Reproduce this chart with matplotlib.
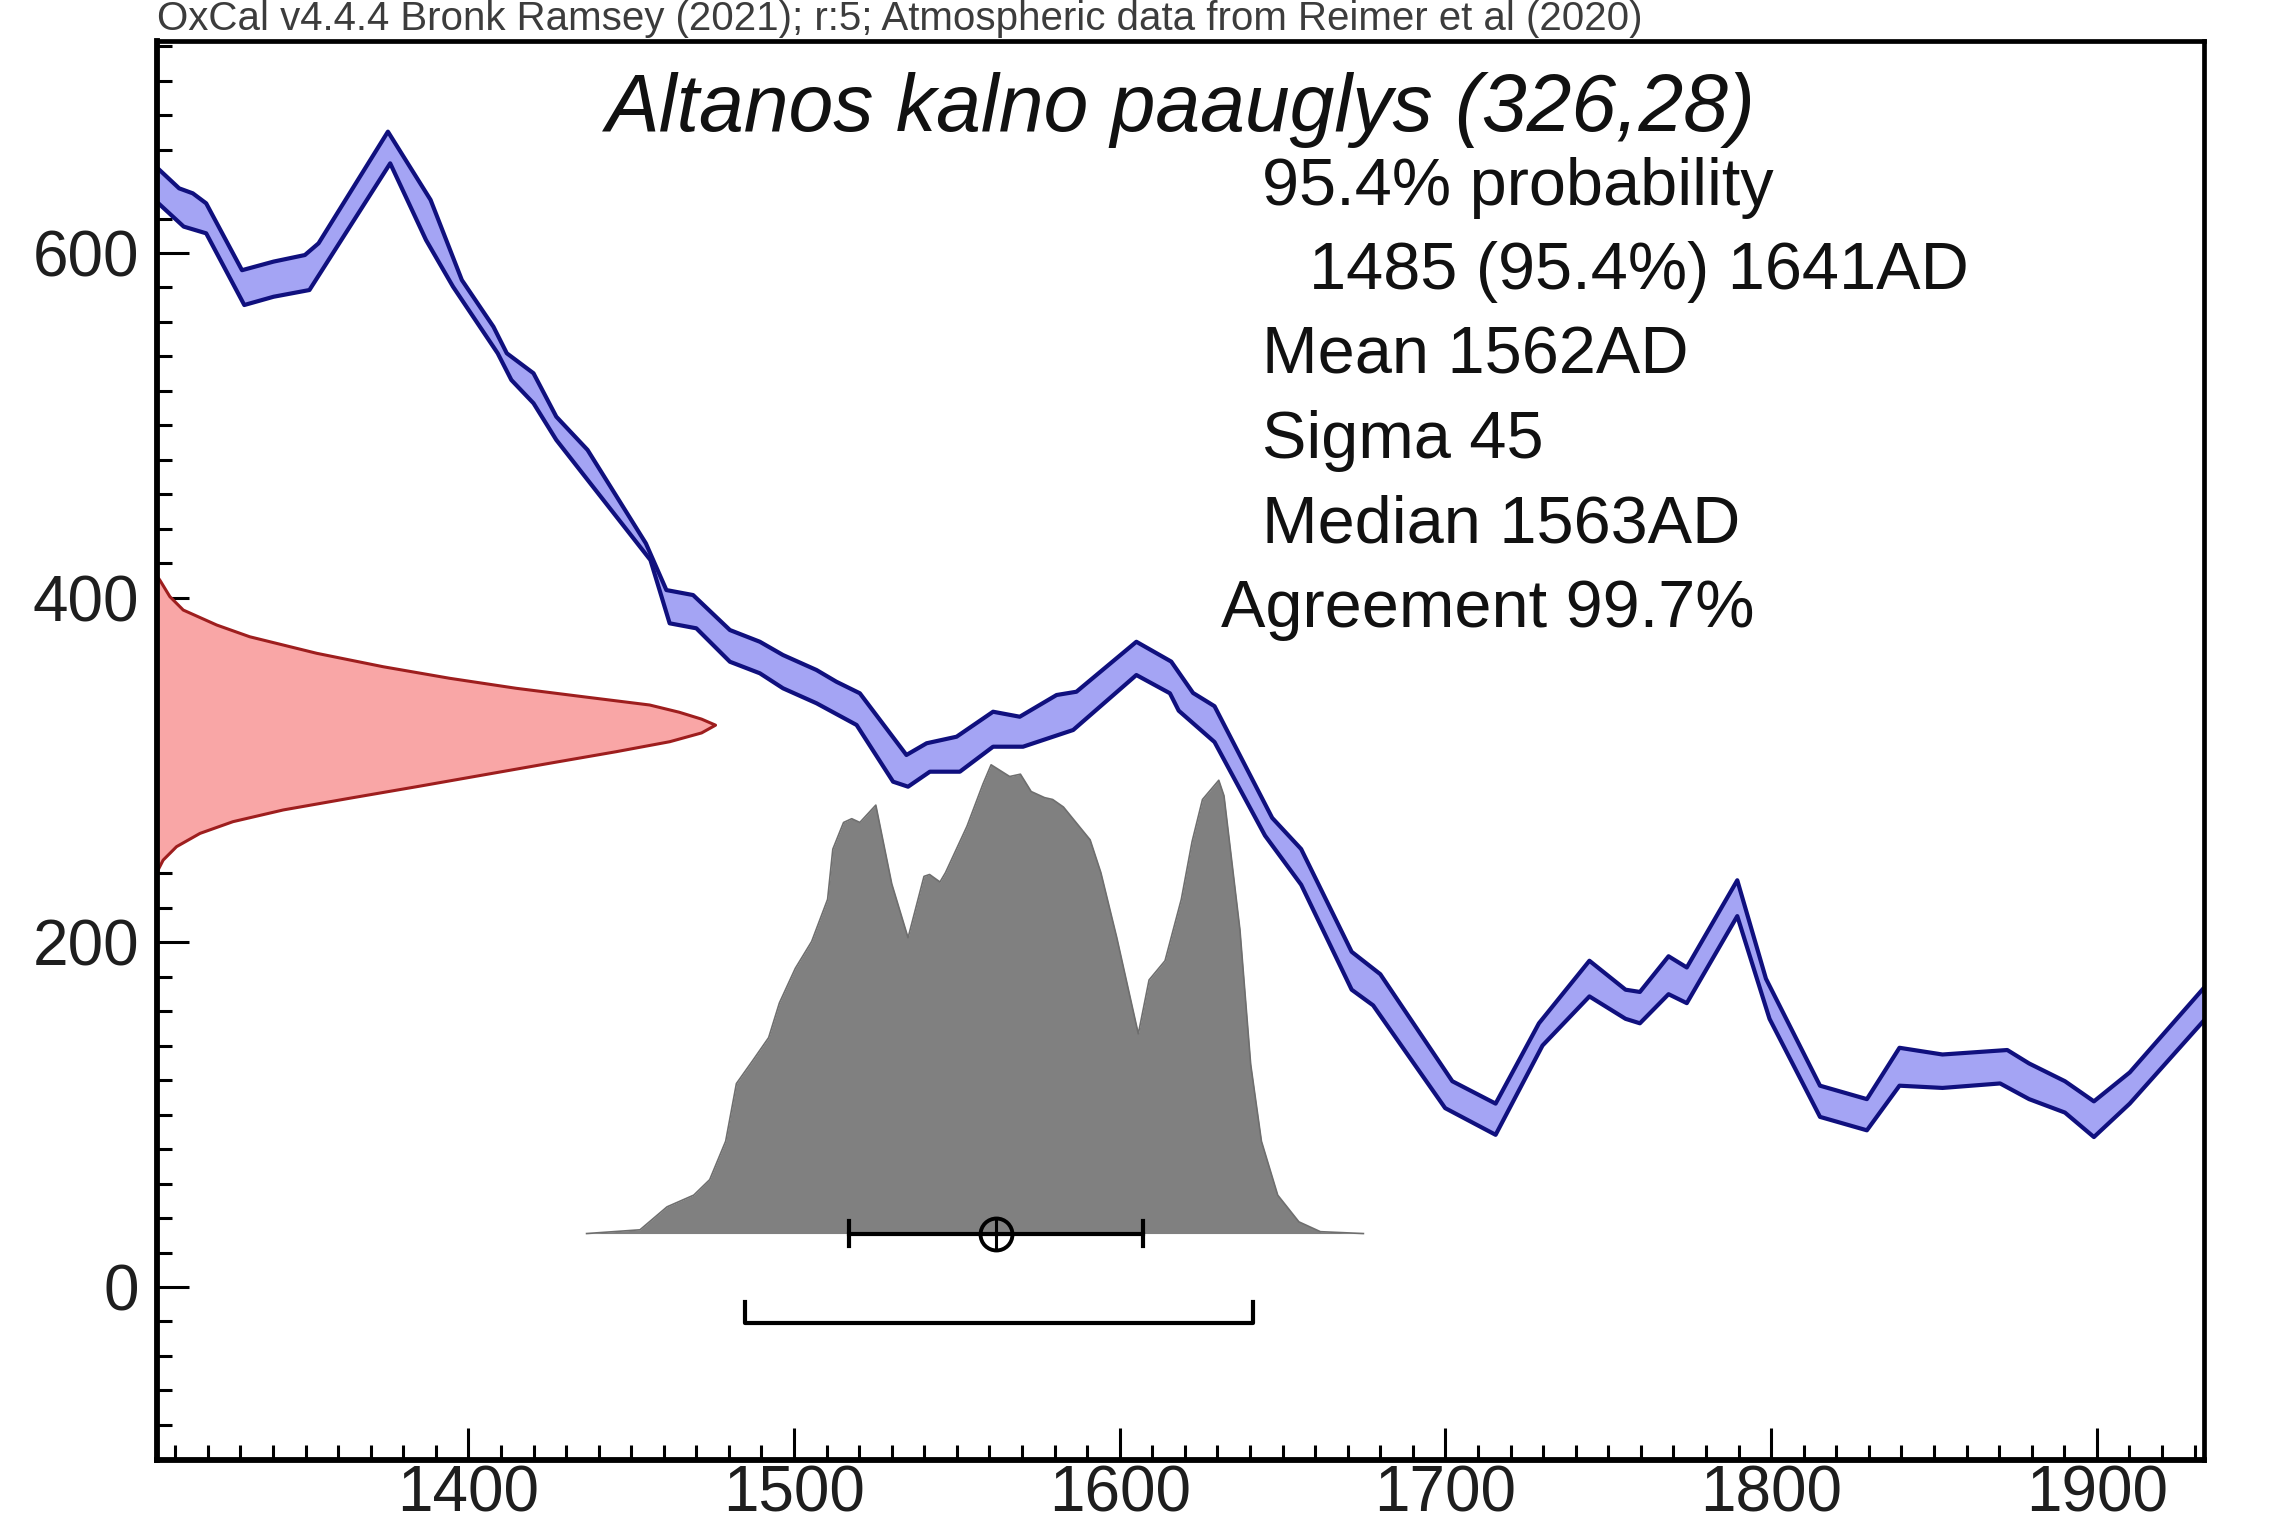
"""
OxCal style calibration plot: calibration curve band, radiocarbon date on the
y axis and the calibrated date distribution on the x axis.
"""

import matplotlib
matplotlib.use("Agg")
import matplotlib.pyplot as plt
import numpy as np
from matplotlib.ticker import MultipleLocator

plt.rcParams['font.family'] = ['Liberation Sans', 'DejaVu Sans']

# calibration curve band (cal AD vs 14C BP), upper and lower edge
curve_upper_years = [1303, 1311.2, 1315.4, 1319.5, 1330.5, 1340.2, 1349.8, 1354, 1375.3, 1388.4,
                     1398, 1407.7, 1411.8, 1420, 1427, 1436.6, 1454.5, 1460.8, 1469.0, 1480.3,
                     1489.5, 1496.6, 1506.9, 1513.0, 1520.2, 1534.5, 1540.7, 1549.9, 1561.1, 1569.3,
                     1580.6, 1586.7, 1605.1, 1615.8, 1622.5, 1629.1, 1646.8, 1655.7, 1671.2, 1680,
                     1702.1, 1715.4, 1728.7, 1744.2, 1755.3, 1759.7, 1768.5, 1774.1, 1789.6, 1798.4,
                     1815.0, 1829.4, 1839.4, 1852.6, 1872.5, 1879.2, 1890.2, 1899.1, 1910.1, 1934]
curve_upper_bp = [652, 637.5, 634.6, 628.8, 590, 595, 598.8, 605.6, 670.4, 630.8,
                  584.3, 557.2, 541.8, 530.2, 505, 485.7, 431.5, 404.4, 401.5, 381.2,
                  374.4, 366.7, 358.0, 351.2, 344.5, 308.7, 315.5, 319.3, 333.8, 330.9,
                  343.5, 345.4, 374.4, 362.9, 344.7, 337.0, 272.2, 254.1, 194.5, 181.5,
                  119.4, 106.4, 153.0, 189.3, 172.5, 171.2, 191.9, 185.4, 236.0, 178.9,
                  116.8, 109.0, 138.8, 134.9, 137.5, 129.7, 119.4, 107.7, 124.5, 176]
curve_lower_years = [1303, 1312.6, 1319.5, 1331.2, 1340.2, 1351.2, 1376, 1387, 1395.3, 1409,
                     1413.2, 1420, 1427, 1455.9, 1461.8, 1470.0, 1480.3, 1489.5, 1496.6, 1506.9,
                     1519.2, 1530.4, 1535.0, 1541.7, 1550.9, 1561.1, 1570.3, 1585.7, 1605.1, 1615.4,
                     1618.1, 1629.1, 1644.6, 1655.7, 1671.2, 1677.8, 1699.9, 1715.4, 1729.8, 1744.2,
                     1755.3, 1759.7, 1768.5, 1774.1, 1789.6, 1799.5, 1815.0, 1829.4, 1839.4, 1852.6,
                     1870.3, 1879.2, 1890.2, 1899.1, 1910.1, 1934]
curve_lower_bp = [632, 615.3, 611.4, 569.8, 574.6, 578.5, 652, 607.5, 580.4, 541.8,
                  526.3, 512.8, 491.5, 421.8, 385.1, 382.2, 362.8, 356.1, 347.4, 338.7,
                  326.1, 293.2, 290.3, 299.0, 299.0, 313.5, 313.5, 323.2, 355.1, 344.5,
                  334.4, 316.2, 261.9, 233.4, 172.5, 163.4, 103.8, 88.3, 140.1, 168.6,
                  155.6, 153.0, 169.9, 164.7, 215.2, 155.6, 98.7, 90.9, 116.8, 115.5,
                  118.1, 109.0, 101.2, 87.0, 106.4, 157]

# radiocarbon measurement 326 +/- 28 BP, relative probability
r_date_bp = [412.5, 410.2, 400.6, 392.8, 384.1, 377.3, 367.7, 359.9, 353.2, 347.4,
             342.5, 337.7, 333.5, 329.5, 326.0, 321.5, 316.4, 310.6, 303.9, 297.1,
             290.3, 283.6, 276.8, 270.0, 263.2, 255.5, 247.7, 242.0, 239.0]
r_date_prob = [0, 0.005, 0.023, 0.047, 0.107, 0.166, 0.286, 0.405, 0.524, 0.643,
               0.763, 0.882, 0.935, 0.975, 1.0, 0.975, 0.918, 0.822, 0.703, 0.584,
               0.465, 0.345, 0.226, 0.136, 0.077, 0.035, 0.011, 0.002, 0]

# calibrated date, relative probability
cal_years = [1436.3, 1452.7, 1461.0, 1469.2, 1474.1, 1479.0, 1482.3, 1487.3, 1492.2, 1495.5,
             1500.4, 1505.4, 1510.3, 1511.9, 1515.2, 1517.7, 1520.2, 1525.1, 1530.0, 1535.0,
             1539.9, 1541.6, 1544.8, 1546.5, 1553.1, 1558.0, 1560.5, 1566.2, 1569.5, 1572.8,
             1576.9, 1579.4, 1582.7, 1590.9, 1594.2, 1599.1, 1605.7, 1609.0, 1613.9, 1618.9,
             1622.2, 1625.4, 1630.4, 1632.0, 1636.9, 1640.2, 1643.5, 1648.5, 1655.0, 1661.6, 1674.8]
cal_prob = [0, 0.008, 0.057, 0.082, 0.115, 0.197, 0.320, 0.369, 0.418, 0.492,
            0.566, 0.623, 0.713, 0.820, 0.877, 0.885, 0.877, 0.914, 0.746, 0.631,
            0.762, 0.766, 0.750, 0.770, 0.869, 0.959, 1.0, 0.975, 0.980, 0.943,
            0.930, 0.926, 0.910, 0.840, 0.770, 0.631, 0.426, 0.541, 0.582, 0.713,
            0.836, 0.926, 0.967, 0.934, 0.648, 0.361, 0.197, 0.082, 0.025, 0.004, 0]

cal_mean = 1562
cal_sigma = 45
range_954 = [1485, 1641]

header = "OxCal v4.4.4 Bronk Ramsey (2021); r:5; Atmospheric data from Reimer et al (2020)"
title = "Altanos kalno paauglys (326,28)"
stats_lines = ["95.4% probability", "1485 (95.4%) 1641AD", "Mean 1562AD",
               "Sigma 45", "Median 1563AD", "Agreement 99.7%"]

# ---- layout (pixels of the 2280x1520 output)
W, H = 2280, 1520
X_MIN, X_MAX = 1304.4, 1932.9
Y_MIN, Y_MAX = -100.4, 723

fig = plt.figure(figsize=(W / 100, H / 100), dpi=100)
ax = fig.add_axes([157 / W, 1 - 1460 / H, 2047 / W, 1419 / H])
ax.set_xlim(X_MIN, X_MAX)
ax.set_ylim(Y_MIN, Y_MAX)

# 1. radiocarbon date on the y axis
r_width = 171.5
r_x = X_MIN + np.array(r_date_prob) * r_width
ax.fill_betweenx(r_date_bp, X_MIN, r_x, color='#f9a6a6', lw=0, zorder=2)
ax.plot(r_x, r_date_bp, color='#9e1e1e', lw=2.2, zorder=3, solid_joinstyle='round')

# 2. calibration curve band
band_x = np.concatenate([curve_upper_years, curve_lower_years[::-1]])
band_y = np.concatenate([curve_upper_bp, curve_lower_bp[::-1]])
ax.fill(band_x, band_y, color='#a4a4f4', lw=0, zorder=3)
for xs, ys in [(curve_upper_years, curve_upper_bp), (curve_lower_years, curve_lower_bp)]:
    ax.plot(xs, ys, color='#10107e', lw=3.0, zorder=4, solid_joinstyle='round')

# 3. calibrated distribution on the x axis
base = 31
height = 272
top = base + np.array(cal_prob) * height
ax.fill_between(cal_years, base, top, color='#808080', lw=0, zorder=2)
ax.plot(cal_years, top, color='#6e6e6e', lw=1.2, zorder=2)

# mean +/- sigma bar
ax.plot([cal_mean - cal_sigma, cal_mean + cal_sigma], [base, base], color='k', lw=3.0, zorder=5)
for x in (cal_mean - cal_sigma, cal_mean + cal_sigma):
    ax.plot([x, x], [base - 7, base + 7], color='k', lw=3.0, zorder=5)
ax.plot(cal_mean, base, marker='o', ms=23, mfc='none', mec='k', mew=2.8, zorder=6)
ax.plot(cal_mean, base, marker='+', ms=23, mec='k', mew=2.2, zorder=6)

# 95.4% range bracket
ax.plot([range_954[0], range_954[0], range_954[1], range_954[1]], [-9, -21, -21, -9],
        color='k', lw=3.0, zorder=5)

# 4. axes styling
for side in ['left', 'bottom']:
    ax.spines[side].set_linewidth(4.2)
for side in ['top', 'right']:
    ax.spines[side].set_linewidth(3.4)
for s in ax.spines.values():
    s.set_zorder(10)

ax.xaxis.set_major_locator(MultipleLocator(100))
ax.xaxis.set_minor_locator(MultipleLocator(10))
ax.yaxis.set_major_locator(MultipleLocator(200))
ax.yaxis.set_minor_locator(MultipleLocator(20))
ax.tick_params(which='both', direction='in', top=False, right=False, colors='k',
               labelsize=46, labelcolor='#1e1e1e')
ax.tick_params(which='major', length=23, width=2.2)
ax.tick_params(which='minor', length=11, width=2.2)
ax.tick_params(axis='x', which='major', pad=3)
ax.tick_params(axis='y', which='major', pad=13)

# 5. texts
def put(x, y, s, **kw):
    fig.text(x / W, 1 - y / H, s, va='baseline', **kw)

put(157, 30, header, fontsize=29, color='#3c3c3c')
put(1181, 131, title, fontsize=58, style='italic', ha='center', color='#111111')
stats_x = [1262, 1309, 1262, 1262, 1262, 1221]
for i, line in enumerate(stats_lines):
    put(stats_x[i], 205 + i * 84.4, line, fontsize=48, color='#111111')

fig.savefig("out.png", dpi=100)
